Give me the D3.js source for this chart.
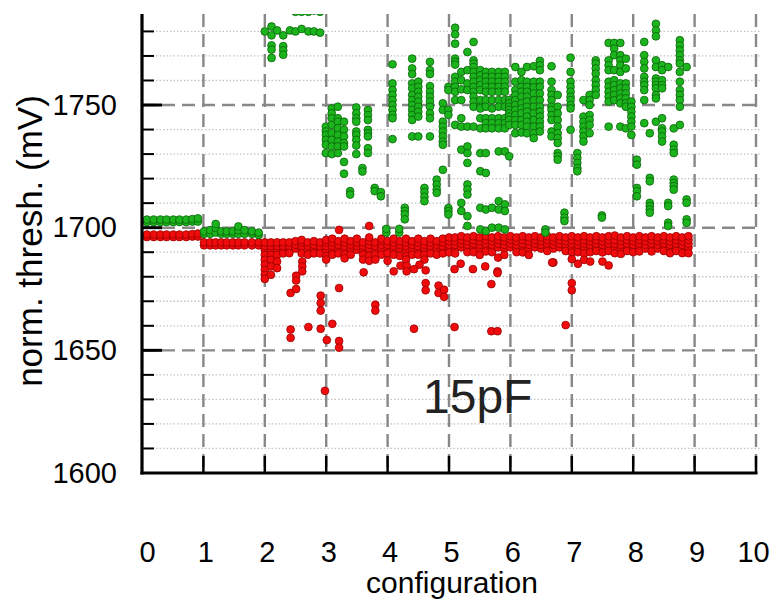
<!DOCTYPE html>
<html><head><meta charset="utf-8">
<script src="https://cdn.jsdelivr.net/npm/d3@7"></script>
<style>body{margin:0;background:#fff}svg{display:block}text{font-family:"Liberation Sans",Arial,sans-serif}</style>
</head><body>
<script>
// ---------- data ----------
const xTicks = [0,1,2,3,4,5,6,7,8,9,10];
const yTicks = [1600,1650,1700,1750];
const yMinor = [1610,1620,1630,1640,1660,1670,1680,1690,1710,1720,1730,1740,1760,1770,1780];
const xLabel = "configuration";
const yLabel = "norm. thresh. (mV)";
const note = "15pF";

// green series: [configuration, [thresholds]]
const greenCols = [
 [0.08,[1702.3,1703.3]],[0.19,[1702.3,1703.3]],[0.30,[1702.3,1703.3]],[0.40,[1702.3,1703.3]],[0.51,[1702.3,1703.3]],
 [0.61,[1702.3,1703.3]],[0.72,[1702.3,1703.3]],[0.82,[1702.5,1703.5]],[0.91,[1702.5,1703.8]],
 [1.01,[1697.5,1698.5]],[1.11,[1697.5,1699]],[1.20,[1698,1700,1701.5]],[1.29,[1697.5,1698.5]],[1.38,[1697.5,1698.5]],
 [1.48,[1697.5,1698.5]],[1.57,[1697.5,1699,1700.5]],[1.67,[1697.5,1699]],[1.79,[1697.5,1698.5]],[1.90,[1697,1698]],
 [2.00,[1780]],[2.11,[1782,1778.4,1774.3,1772.6,1769.2]],[2.20,[1780.4]],[2.30,[1778.4,1774,1772.3,1770.5]],
 [2.41,[1780.4]],[2.50,[1780,1788]],[2.60,[1781,1788]],[2.71,[1780,1788]],[2.80,[1780,1788.5]],[2.90,[1779.5,1788]],
 [2.995,[1741.2,1739.2,1737.8,1735.8,1733.8,1730.4]],
 [3.09,[1748.6,1746.6,1744.6,1741.9,1738.5,1735.8,1733.1,1730]],
 [3.19,[1749.3,1744.6,1743.2,1740.5,1737.8,1735.1,1733.1,1730.4]],
 [3.29,[1743.2,1739.9,1737.2,1734.5,1733.1,1726.8,1722]],
 [3.39,[1714.9,1713.5]],
 [3.49,[1749,1746.6,1744.6,1743.2,1739.2,1737.8,1735.8,1733.5,1730]],
 [3.59,[1724.3,1722.9]],
 [3.68,[1748,1745.9,1743.9,1739.9,1738.5,1737.2,1732.4,1730.4]],
 [3.79,[1716.2,1714.9]],[3.89,[1714.5,1712.8]],[3.98,[1698,1699.5]],
 [4.08,[1766.6,1758.8,1756.1,1754.1,1752.0,1750.0,1748.0,1746.0,1744.6,1736.1]],
 [4.19,[1698,1699.5]],
 [4.28,[1708.1,1706.8,1705.4,1703.4]],
 [4.40,[1768.9,1764.9,1762.6,1758.8,1756.8,1754.1,1752.0,1750.0,1748.0,1746.0,1743.9,1737.2]],
 [4.50,[1759.5,1757.4,1755.4,1753.4,1751.4,1749.3,1747.3,1745.3,1737.2]],
 [4.60,[1716.2,1714.5,1712.6,1710.8]],
 [4.69,[1767.6,1764.2,1762.6,1757.7,1755.4,1753.4,1751.4,1749.3,1746.6,1744.6,1737.2]],
 [4.80,[1719.6,1717.6,1715.6,1714.2]],
 [4.90,[1750.7,1748.0,1743.2,1741.2,1739.2,1737.2,1735.1,1733.8,1723.6]],
 [4.99,[1757.4,1756.1,1748,1746,1708,1706.8,1705.4]],
 [5.10,[1781.5,1778.8,1775.0,1768.9,1767.6,1766.5,1761.5,1759.5,1757.4,1755.4,1752.0,1741.9]],
 [5.20,[1763.5,1760.1,1756.4,1752.0,1744.6,1741.2,1731.8,1710.1,1706.8]],
 [5.30,[1771.6,1764.2,1758.8,1756.1,1741.2,1733.1,1730.4,1726.4,1717.6,1715.6,1713.5,1704.7,1700.7]],
 [5.40,[1775.7,1768.2,1766.9,1765.5,1763.5,1761.5,1759.5,1757.4,1755.4,1753.4,1751.4,1749.3,1741.2]],
 [5.51,[1764.2,1762.1,1760.1,1758.1,1756.1,1752.0,1749.3,1748.6,1744.6,1740.5,1730.4,1723.0,1708.1,1699.3]],
 [5.60,[1763.5,1761.5,1759.5,1757.4,1755.4,1752.0,1749.3,1744.6,1742.6,1740.5,1730.4,1722.3,1707.4,1698.6]],
 [5.70,[1763.5,1761.5,1759.5,1757.4,1755.4,1752.0,1748.6,1744.6,1742.6,1740.5,1708.1,1700.0]],
 [5.81,[1763.5,1761.5,1759.5,1757.4,1755.4,1752.0,1749.3,1744.6,1742.6,1740.5,1731.1,1710.8,1707.4,1700.0]],
 [5.91,[1763.5,1761.5,1759.5,1757.4,1755.4,1752.0,1749.3,1744.6,1742.6,1740.5,1731.1,1709.5,1706.8,1699.3]],
 [5.98,[1752.0,1750.7,1749.3,1748.0,1746.6,1745.3,1743.9,1741.9,1729.1]],
 [6.08,[1765.5,1759.5,1756.1,1754.1,1752.0,1750.0,1748.0,1745.9,1743.9,1741.9,1738.5]],
 [6.18,[1763.5,1760.1,1757.4,1755.4,1753.4,1750.7,1748.6,1746.6,1743.9,1741.9,1738.8]],
 [6.27,[1765.5,1759.5,1757.4,1755.4,1753.4,1751.4,1749.3,1747.3,1745.3,1743.2,1741.2,1738.5]],
 [6.38,[1765.8,1759.5,1757.2,1754.7,1752.0,1749.3,1746.6,1743.9,1741.2,1738.5,1736.5]],
 [6.48,[1768.0,1766.2,1764.2,1759.5,1757.4,1754.7,1752.0,1749.3,1747.3,1745.3,1743.2,1741.2,1739.2]],
 [6.57,[1699.3,1698]],
 [6.67,[1765.8,1759.5,1756.1,1754.1,1752.0,1749.3,1748.0,1745.9,1743.9,1739.2,1737.2]],
 [6.77,[1754.1,1749.3,1746.6,1743.9,1741.2,1738.5,1736.5,1734.5,1730.4,1729.1,1727.7]],
 [6.88,[1706.1,1704.1,1702.7]],
 [6.98,[1769.3,1763.5,1759.5,1757.4,1755.4,1753.4,1752.0,1750.0,1748.6,1739.9]],
 [7.09,[1730.4,1728.4,1726.4,1724.3,1723.0]],
 [7.19,[1752.0,1745.3,1743.2,1741.2,1739.2,1737.2,1735.1]],
 [7.29,[1754.1,1752.0,1750.0,1745.9,1743.9,1741.9,1738.5]],
 [7.39,[1768.2,1766.9,1764.9,1762.8,1760.1,1758.1,1756.1,1754.1]],
 [7.49,[1705,1704.1]],
 [7.60,[1775.3,1768.2,1766.2,1764.2,1759.5,1757.4,1755.4,1753.4,1751.4,1741.2]],
 [7.69,[1775.3,1773.0,1770.3,1764.2,1760.1,1758.1,1756.1,1754.1,1752.0]],
 [7.79,[1775.3,1770.3,1768.2,1766.2,1763.5,1758.8,1756.8,1754.7,1752.7,1750.7,1741.2]],
 [7.88,[1768.9,1764.9,1758.8,1756.8,1754.7,1752.7,1750.7,1749.3,1740.5]],
 [7.97,[1751.4,1749.3,1747.3,1745.3,1743.2,1741.2,1737.8]],
 [8.06,[1727.7,1725.7,1716.2,1714.9,1712.8]],
 [8.18,[1775.7,1770.3,1767.6,1764.9,1761.5,1759.5,1758.1,1756.1,1752.0,1742.6]],
 [8.27,[1738.5,1720.3,1718.9,1710.1,1708.8,1707.4,1706.1]],
 [8.37,[1783.1,1780.4,1778.0,1768.2,1765.5,1760.8,1759.5,1758.1,1756.8,1754.1,1752.7,1743.2]],
 [8.47,[1766.2,1764.2,1760.1,1758.1,1756.8,1744.6,1740.5,1739.2,1737.2,1735.1]],
 [8.57,[1765.5,1710.1,1708.8,1702,1700.7]],
 [8.66,[1740.5,1733.8,1731.8,1730.4,1719.6,1718.2,1716.9,1715.5]],
 [8.76,[1776.4,1774.3,1772.3,1770.3,1768.2,1766.9,1763.5,1759.5,1756.1,1754.1,1752.0,1749.3,1741.9]],
 [8.87,[1765.5,1711.5,1710.1,1703.4,1702]]
];

// red series band: [configuration, [thresholds]]
const redCols = [
 [0.08,[1696.2,1697.2]],[0.19,[1696.2,1697.2]],[0.30,[1696.2,1697.2]],[0.40,[1696.2,1697.2]],[0.51,[1696.2,1697.2]],
 [0.61,[1696.2,1697.2]],[0.72,[1696.2,1697.2]],[0.82,[1696.4,1697.4]],[0.91,[1696.4,1697.6]],
 [1.01,[1692.8,1694]],[1.11,[1692.8,1694]],[1.20,[1692.8,1694]],[1.29,[1692.8,1694]],[1.38,[1692.8,1694]],
 [1.48,[1692.8,1694]],[1.57,[1692.8,1694]],[1.67,[1692.8,1694]],[1.79,[1692.8,1694]],[1.90,[1692.8,1694]],
 [2.0,[1691,1692.5,1694,1688.9,1686.9,1684.9,1682.8,1680.8,1679.1]],
 [2.1,[1691,1692.5,1694,1688.9,1686.9,1684.2,1680.8]],
 [2.2,[1691,1692.5,1694,1688.9,1686.2,1683.5]],
 [2.3,[1691,1692.5,1694,1689.5]],[2.4,[1691,1692.5,1694,1689.6]],[2.5,[1691.5,1693,1694.5]],
 [2.6,[1691,1692.5,1694,1695,1689.5]],[2.7,[1691,1692.5,1694,1689]],[2.8,[1691.5,1693,1694.5,1689.5]],
 [2.9,[1691,1692.5,1694,1689.5]],
 [3.0,[1691,1692.5,1694,1695,1688.5,1687]],[3.1,[1691,1692.5,1694,1695.5,1689]],[3.2,[1691.5,1693,1694.5,1689.5]],
 [3.3,[1691,1692.5,1694,1695.5,1689,1687.5]],[3.4,[1691.5,1693,1694.5,1689]],[3.5,[1691,1692.5,1694,1695.5]],
 [3.6,[1691,1692.5,1694,1689,1687]],[3.7,[1691.5,1693,1694.5,1696,1688.5,1686.5]],[3.8,[1691,1692.5,1694,1689,1687]],
 [3.9,[1691.5,1693,1694.5,1695.5,1689]],
 [4.0,[1691.5,1693,1694.5,1689.5,1686.5]],[4.1,[1691,1692.5,1694,1695.5,1689]],[4.2,[1691.5,1693,1694.5,1688.5]],
 [4.3,[1691,1692.5,1694,1695.5,1688.5,1687]],[4.4,[1691.5,1693,1694.5,1689]],[4.5,[1691,1692.5,1694,1695.5,1689]],
 [4.6,[1691.5,1693,1694.5,1689,1687]],[4.7,[1691,1692.5,1694,1695.5,1689.5]],[4.8,[1691.5,1693,1694.5,1689]],
 [4.9,[1691,1692.5,1694,1695.5,1689.5]],
 [5.0,[1691.5,1693,1694.5,1696,1689.9]],[5.1,[1691.5,1693,1694.5,1696,1689.5]],[5.2,[1692,1693.5,1695,1696.5]],
 [5.3,[1691.5,1693,1694.5,1696,1690]],[5.4,[1692,1693.5,1695,1696.5,1690]],[5.5,[1691.5,1693,1694.5,1696,1688.9]],
 [5.6,[1692,1693.5,1695,1696.5,1690.3]],[5.7,[1691.5,1693,1694.5,1696,1690]],[5.8,[1692,1693.5,1695,1696.5,1687.8]],
 [5.9,[1691.5,1693,1694.5,1696,1688.9]],
 [6.0,[1692,1693.5,1695,1696.5]],[6.1,[1691.5,1693,1694.5,1696,1690]],[6.2,[1692,1693.5,1695,1696.5,1689.9]],
 [6.3,[1691.5,1693,1694.5,1696,1688.9]],[6.4,[1692,1693.5,1695,1696.5]],[6.5,[1691.5,1693,1694.5,1696]],
 [6.6,[1692,1693.5,1695,1696.5,1690.5]],[6.7,[1691.5,1693,1694.5,1696,1685.8]],[6.8,[1692,1693.5,1695,1696.5]],
 [6.9,[1691.5,1693,1694.5,1696,1690.5]],
 [7.0,[1692,1693.5,1695,1696.5,1689.9,1687.2]],[7.1,[1691.5,1693,1694.5,1696,1690]],[7.2,[1692,1693.5,1695,1696.5,1689.5]],
 [7.3,[1691.5,1693,1694.5,1696,1690]],[7.4,[1692,1693.5,1695,1696.5,1690.5]],[7.5,[1691.5,1693,1694.5,1696,1689.9]],
 [7.6,[1692,1693.5,1695,1696.5,1690.5]],[7.7,[1692,1693.5,1695,1696.8,1689.6]],[7.8,[1691.5,1693,1694.5,1696,1689.3]],
 [7.9,[1692,1693.5,1695,1696.5,1690.5]],
 [8.0,[1691.5,1693,1694.5,1696,1690]],[8.1,[1692,1693.5,1695,1696.5,1690.3]],[8.2,[1691.5,1693,1694.5,1696]],
 [8.3,[1692,1693.5,1695,1696.5,1690.3]],[8.4,[1691.5,1693,1694.5,1696]],[8.5,[1692,1693.5,1695,1696.5,1690.5]],
 [8.6,[1691.5,1693,1694.5,1696,1689.6]],[8.7,[1692,1693.5,1695,1696.5,1690.5]],[8.8,[1691.5,1693,1694.5,1696,1689.6]],
 [8.9,[1692,1693.5,1695,1696.5,1689.6]]
];

// red outliers: [configuration, threshold]
const redOutliers = [
 [2.42,1673.4],[2.42,1658.5],[2.42,1655.1],[2.51,1680.4],[2.51,1678.5],[2.51,1675.0],[2.61,1686.2],[2.61,1684.2],
 [2.61,1682.2],[2.71,1659.5],[2.91,1672.3],[2.91,1669.3],[2.91,1666.2],[2.91,1658.8],[2.98,1633.5],[3.01,1654.2],
 [3.10,1660.8],[3.21,1699.1],[3.21,1675.4],[3.21,1653.8],[3.21,1651.1],[3.61,1681.8],[3.70,1700.7],[3.80,1668.6],
 [3.80,1666.2],[4.10,1682.2],[4.21,1684.5],[4.31,1684.5],[4.31,1682.2],[4.43,1683.1],[4.43,1658.8],[4.52,1684.9],
 [4.62,1682.6],[4.62,1677.4],[4.62,1674.5],[4.83,1676.4],[4.83,1673.4],[4.92,1674.7],[4.92,1671.8],[5.09,1683.1],
 [5.09,1659.5],[5.19,1685.3],[5.39,1683.1],[5.59,1684.2],[5.69,1677.0],[5.69,1657.8],[5.79,1657.8],[5.79,1682.2],
 [5.79,1681.5],[6.68,1685.8],[6.90,1660.3],[7.00,1677.4],[7.00,1674.5],[7.10,1685.3],[7.20,1686.9],[7.30,1686.2],
 [7.50,1686.2],[7.60,1684.6]
];

// ---------- chart ----------
const W = 780, H = 602;
const svg = d3.select("body").append("svg").attr("width", W).attr("height", H);
const x = d3.scaleLinear().domain([0, 10]).range([142, 756]);
const y = d3.scaleLinear().domain([1600, 1787.1]).range([473, 14]);

// minor dotted gridlines
svg.append("g").selectAll("line").data(yMinor).join("line")
  .attr("x1", x(0)).attr("x2", x(10) + 4).attr("y1", d => y(d)).attr("y2", d => y(d))
  .attr("stroke", "#c4c4c4").attr("stroke-width", 1.3).attr("stroke-dasharray", "1.5,2");

// major dashed gridlines
svg.append("g").selectAll("line").data(yTicks.filter(d => d > 1600)).join("line")
  .attr("x1", x(0)).attr("x2", x(10) + 4).attr("y1", d => y(d)).attr("y2", d => y(d))
  .attr("stroke", "#888").attr("stroke-width", 2.4).attr("stroke-dasharray", "13,7");
svg.append("g").selectAll("line").data(xTicks.filter(d => d > 0)).join("line")
  .attr("x1", d => x(d)).attr("x2", d => x(d)).attr("y1", y.range()[1]).attr("y2", y(1600))
  .attr("stroke", "#888").attr("stroke-width", 2.4).attr("stroke-dasharray", "13,7");

// points
svg.append("clipPath").attr("id", "clip").append("rect")
  .attr("x", x(0)).attr("y", y.range()[1]).attr("width", x(10) - x(0) + 6).attr("height", y(1600) - y.range()[1]);
const plot = svg.append("g").attr("clip-path", "url(#clip)");

const flat = cols => cols.flatMap(([cx, ys]) => ys.map(v => [cx, v]));
const redPts = flat(redCols).concat(redOutliers);
const greenPts = flat(greenCols);

plot.append("g").selectAll("circle").data(redPts).join("circle")
  .attr("cx", d => x(d[0])).attr("cy", d => y(d[1])).attr("r", 3.9)
  .attr("fill", "#f00c0c").attr("stroke", "#980000").attr("stroke-width", 0.8);
plot.append("g").selectAll("circle").data(greenPts).join("circle")
  .attr("cx", d => x(d[0])).attr("cy", d => y(d[1])).attr("r", 3.9)
  .attr("fill", "#1cb41c").attr("stroke", "#0a620a").attr("stroke-width", 0.8);

// axis ticks
svg.append("g").selectAll("line").data(yMinor).join("line")
  .attr("x1", x(0)).attr("x2", x(0) + 12).attr("y1", d => y(d)).attr("y2", d => y(d))
  .attr("stroke", "#000").attr("stroke-width", 2);
svg.append("g").selectAll("line").data(yTicks.filter(d => d > 1600)).join("line")
  .attr("x1", x(0)).attr("x2", x(0) + 20).attr("y1", d => y(d)).attr("y2", d => y(d))
  .attr("stroke", "#000").attr("stroke-width", 3);
svg.append("g").selectAll("line").data(xTicks.filter(d => d > 0)).join("line")
  .attr("x1", d => x(d)).attr("x2", d => x(d)).attr("y1", y(1600)).attr("y2", y(1600) - 17)
  .attr("stroke", "#000").attr("stroke-width", 2.5);

// axis lines
svg.append("line").attr("x1", x(0)).attr("x2", x(0)).attr("y1", y.range()[1]).attr("y2", y(1600) + 1.5)
  .attr("stroke", "#000").attr("stroke-width", 3.2);
svg.append("line").attr("x1", x(0) - 1.5).attr("x2", x(10) + 1.5).attr("y1", y(1600)).attr("y2", y(1600))
  .attr("stroke", "#000").attr("stroke-width", 3.2);

// tick labels via d3 axes
const yAxis = svg.append("g").attr("transform", `translate(${x(0)},0)`)
  .call(d3.axisLeft(y).tickValues(yTicks).tickSize(0).tickPadding(25).tickFormat(d3.format("d")));
yAxis.select(".domain").remove();
yAxis.selectAll("text").attr("font-size", 29).attr("font-family", '"Liberation Sans", Arial, sans-serif').attr("fill", "#000");

const xAxis = svg.append("g").attr("transform", `translate(0,${y(1600)})`)
  .call(d3.axisBottom(x).tickValues(xTicks).tickSize(0).tickPadding(68).tickFormat(d3.format("d")));
xAxis.select(".domain").remove();
xAxis.selectAll("text").attr("font-size", 29).attr("font-family", '"Liberation Sans", Arial, sans-serif').attr("fill", "#000")
  .attr("dx", d => d === 0 ? 5 : (d === 10 ? -3 : 2));

// axis titles
svg.append("text").attr("x", 452).attr("y", 593).attr("text-anchor", "middle")
  .attr("font-size", 30).attr("fill", "#000").text(xLabel);
svg.append("text").attr("transform", "translate(42,241) rotate(-90)").attr("text-anchor", "middle")
  .attr("font-size", 35).attr("fill", "#000").text(yLabel);

// annotation
svg.append("text").attr("x", 423).attr("y", 413).attr("font-size", 48).attr("fill", "#222").text(note);
</script>
</body></html>
